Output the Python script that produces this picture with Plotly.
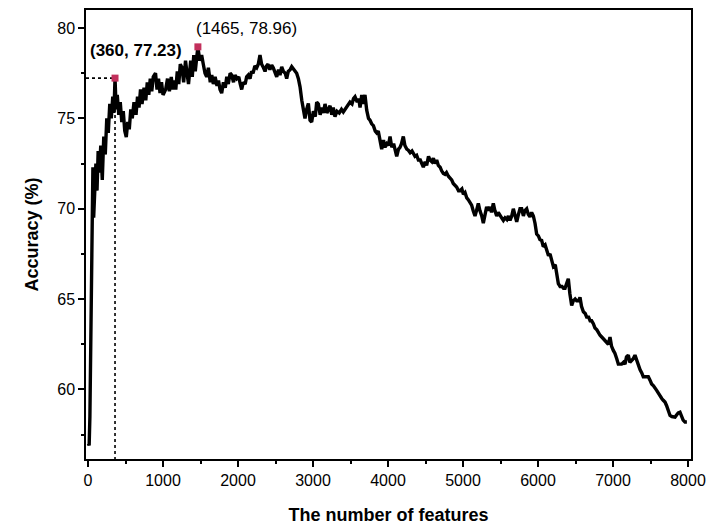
import plotly.graph_objects as go

features = [5, 15, 25, 35, 45, 55, 65, 75, 90, 105, 120, 135, 150, 170, 190, 210, 230, 250, 270, 290,
            310, 330, 345, 360, 375, 390, 410, 430, 450, 470, 490, 510, 530, 550, 570, 590, 613, 640, 660, 680,
            700, 720, 747, 770, 790, 810, 830, 850, 870, 900, 920, 940, 960, 980, 1000, 1035, 1060, 1085, 1110, 1130,
            1147, 1170, 1190, 1210, 1230, 1253, 1275, 1300, 1320, 1340, 1369, 1390, 1410, 1430, 1450, 1465, 1490, 1515, 1537, 1560,
            1582, 1605, 1630, 1650, 1671, 1695, 1720, 1740, 1760, 1782, 1805, 1830, 1850, 1870, 1895, 1916, 1940, 1960, 1985, 2010,
            2030, 2049, 2070, 2095, 2115, 2137, 2160, 2180, 2200, 2225, 2249, 2270, 2293, 2315, 2340, 2360, 2380, 2400, 2425, 2449,
            2470, 2495, 2516, 2540, 2560, 2582, 2605, 2630, 2649, 2670, 2695, 2716, 2740, 2760, 2782, 2805, 2827, 2850, 2871, 2893,
            2915, 2938, 2960, 2982, 3005, 3030, 3049, 3071, 3095, 3115, 3138, 3160, 3185, 3205, 3227, 3250, 3270, 3293, 3320, 3350,
            3380, 3404, 3430, 3460, 3493, 3520, 3540, 3560, 3590, 3610, 3627, 3650, 3670, 3693, 3716, 3740, 3760, 3782, 3805, 3830,
            3849, 3870, 3895, 3916, 3940, 3960, 3985, 4005, 4027, 4050, 4075, 4095, 4116, 4140, 4160, 4180, 4204, 4225, 4250, 4271,
            4295, 4320, 4345, 4360, 4382, 4405, 4430, 4450, 4471, 4495, 4515, 4540, 4560, 4585, 4605, 4625, 4649, 4671, 4695, 4715,
            4738, 4760, 4780, 4805, 4825, 4849, 4870, 4895, 4915, 4940, 4960, 4985, 5005, 5027, 5050, 5070, 5093, 5115, 5135, 5160,
            5180, 5204, 5225, 5250, 5271, 5295, 5315, 5338, 5360, 5380, 5404, 5425, 5449, 5470, 5495, 5515, 5538, 5560, 5585, 5605,
            5627, 5650, 5671, 5690, 5716, 5740, 5760, 5782, 5805, 5825, 5849, 5870, 5893, 5915, 5938, 5960, 5982, 6005, 6025, 6049,
            6070, 6095, 6116, 6140, 6160, 6182, 6205, 6230, 6249, 6271, 6295, 6320, 6340, 6360, 6385, 6404, 6425, 6449, 6470, 6495,
            6516, 6540, 6560, 6580, 6605, 6630, 6649, 6675, 6695, 6715, 6738, 6760, 6785, 6805, 6827, 6850, 6870, 6895, 6915, 6938,
            6960, 6980, 7004, 7025, 7050, 7071, 7095, 7115, 7140, 7160, 7180, 7204, 7225, 7249, 7270, 7293, 7315, 7338, 7360, 7385,
            7404, 7430, 7450, 7471, 7495, 7515, 7540, 7560, 7582, 7605, 7630, 7650, 7670, 7693, 7715, 7740, 7760, 7785, 7805, 7827,
            7850, 7870, 7893, 7915, 7935, 7960, 7985]

accuracy = [57.0, 56.9, 58.5, 62.0, 66.0, 68.5, 72.3, 69.5, 71.5, 72.5, 71.0, 73.2, 72.0, 73.5, 71.6, 74.0, 73.0, 75.0, 74.2, 75.8,
            75.0, 76.2, 75.3, 77.23, 75.5, 76.3, 75.2, 75.9, 74.8, 75.4, 74.3, 73.96, 74.8, 74.4, 75.5, 75.0, 75.9, 75.2, 76.2, 75.6,
            76.6, 75.8, 76.7, 76.0, 77.0, 76.3, 77.2, 76.5, 77.3, 77.5, 76.6, 77.2, 76.4, 77.0, 76.3, 76.6, 77.2, 76.5, 77.3, 76.6,
            77.1, 76.6, 77.6, 76.9, 78.0, 77.8, 77.0, 78.2, 77.5, 76.9, 78.2, 77.3, 78.5, 77.6, 78.4, 78.96, 78.2, 78.5, 78.0, 77.5,
            77.3, 77.8, 77.0, 77.4, 76.9, 77.3, 76.8, 77.1, 76.6, 76.4, 77.0, 76.7, 77.3, 76.9, 77.5, 77.4, 77.0, 77.4, 77.2, 77.3,
            76.9, 76.6, 77.0, 76.9, 77.3, 77.4, 77.2, 77.6, 77.5, 77.9, 77.8, 78.0, 78.5, 78.0, 77.8, 77.6, 77.9, 78.0, 77.7, 77.95,
            77.8, 77.5, 77.3, 77.7, 77.4, 77.86, 77.6, 77.5, 77.2, 77.6, 77.7, 77.86, 77.7, 77.6, 77.5, 77.2, 76.75, 76.0, 75.6, 75.0,
            75.5, 75.83, 74.9, 74.8, 75.4, 75.1, 75.9, 75.8, 75.2, 75.6, 75.3, 75.8, 75.3, 75.5, 75.7, 75.2, 75.6, 75.1, 75.4, 75.3,
            75.5, 75.36, 75.5, 75.7, 75.9, 75.8, 76.1, 76.2, 75.9, 76.1, 75.6, 76.3, 75.8, 76.3, 75.46, 75.0, 74.9, 74.7, 74.6, 74.3,
            74.2, 74.3, 73.7, 73.3, 73.8, 73.4, 73.6, 73.5, 74.0, 73.4, 73.6, 73.2, 72.9, 73.3, 73.4, 73.6, 74.0, 73.5, 73.3, 73.24,
            73.1, 73.2, 73.0, 72.9, 72.96, 72.7, 72.7, 72.5, 72.3, 72.6, 72.4, 72.9, 72.7, 72.6, 72.8, 72.5, 72.7, 72.4, 72.3, 72.1,
            71.95, 71.9, 72.0, 71.8, 71.7, 71.6, 71.4, 71.3, 71.2, 71.0, 71.0, 71.1, 70.8, 70.9, 70.6, 70.5, 70.38, 70.2, 69.9, 69.6,
            69.9, 70.3, 69.9, 69.6, 69.2, 69.7, 70.1, 69.9, 70.1, 69.8, 70.3, 69.9, 69.6, 69.8, 69.6, 69.5, 69.36, 69.5, 69.4, 69.6,
            69.36, 69.6, 70.0, 69.6, 69.27, 69.7, 70.0, 70.0, 69.6, 69.9, 70.0, 69.7, 69.55, 69.8, 69.6, 69.2, 68.6, 68.5, 68.3, 68.25,
            67.9, 68.0, 67.7, 67.4, 67.5, 67.15, 66.8, 66.9, 66.5, 65.86, 65.7, 65.7, 65.6, 65.6, 65.9, 66.13, 65.3, 64.65, 64.9, 65.0,
            64.9, 64.9, 65.1, 64.6, 64.3, 64.2, 64.0, 64.0, 63.8, 63.8, 63.64, 63.4, 63.3, 63.1, 63.0, 62.9, 62.8, 62.7, 62.6, 62.5,
            62.9, 62.4, 62.16, 62.0, 61.7, 61.4, 61.4, 61.4, 61.5, 61.4, 61.8, 61.9, 61.5, 61.6, 61.7, 61.9, 61.6, 61.33, 61.1, 60.9,
            60.7, 60.7, 60.7, 60.7, 60.5, 60.3, 60.2, 60.1, 59.95, 59.8, 59.6, 59.5, 59.4, 59.3, 59.1, 58.8, 58.56, 58.5, 58.5, 58.47,
            58.6, 58.7, 58.74, 58.5, 58.3, 58.2, 58.2]

highlight_x = [360, 1465]
highlight_y = [77.23, 78.96]
highlight_labels = ["(360, 77.23)", "(1465, 78.96)"]

x_range = [-27, 8040]
y_range = [56.15, 81.0]

fig = go.Figure()

# dotted guide lines to the first highlighted point
fig.add_trace(go.Scatter(
    x=[x_range[0], highlight_x[0], highlight_x[0]],
    y=[highlight_y[0], highlight_y[0], y_range[0]],
    mode="lines",
    line=dict(color="black", width=1.6, dash="dot"),
    hoverinfo="skip", showlegend=False,
))

fig.add_trace(go.Scatter(
    x=features, y=accuracy, mode="lines",
    line=dict(color="black", width=3.4),
    showlegend=False,
))

fig.add_trace(go.Scatter(
    x=highlight_x, y=highlight_y, mode="markers",
    marker=dict(symbol="square", size=7, color="#c2305c"),
    showlegend=False,
))

fig.add_annotation(x=640, y=78.78, text="<b>" + highlight_labels[0] + "</b>", showarrow=False,
                   font=dict(family="Liberation Sans, Arial", size=17, color="black"))
fig.add_annotation(x=2107, y=80.0, text=highlight_labels[1], showarrow=False,
                   font=dict(family="Liberation Sans, Arial", size=17, color="black"))

axis_common = dict(
    showline=True, linecolor="black", linewidth=1.5, mirror=True,
    ticks="outside", ticklen=6, tickwidth=1.5, tickcolor="black",
    showgrid=False, zeroline=False, automargin=False,
    tickfont=dict(family="Liberation Sans, Arial", size=16, color="black"),
)

fig.update_xaxes(
    range=x_range, tickmode="array", tickvals=[0, 1000, 2000, 3000, 4000, 5000, 6000, 7000, 8000],
    minor=dict(ticks="outside", ticklen=3, tickwidth=1.5, tickcolor="black", dtick=500, tick0=0),
    title=dict(text="<b>The number of features</b>", standoff=20,
               font=dict(family="Liberation Sans, Arial", size=18, color="black")),
    **axis_common,
)
fig.update_yaxes(
    range=y_range, tickmode="array", tickvals=[60, 65, 70, 75, 80],
    minor=dict(ticks="outside", ticklen=3, tickwidth=1.5, tickcolor="black", dtick=2.5, tick0=0),
    title=dict(text="<b>Accuracy (%)</b>", standoff=14,
               font=dict(family="Liberation Sans, Arial", size=18, color="black")),
    **axis_common,
)

fig.update_layout(
    width=707, height=528,
    margin=dict(l=86, r=16, t=10, b=69),
    plot_bgcolor="white", paper_bgcolor="white",
)

# remove the default page margin so the figure fills the 707x528 window exactly
fig.write_html("out.html",
               config={"displayModeBar": False},
               post_script="document.body.style.margin='0';document.body.style.overflow='hidden';")
